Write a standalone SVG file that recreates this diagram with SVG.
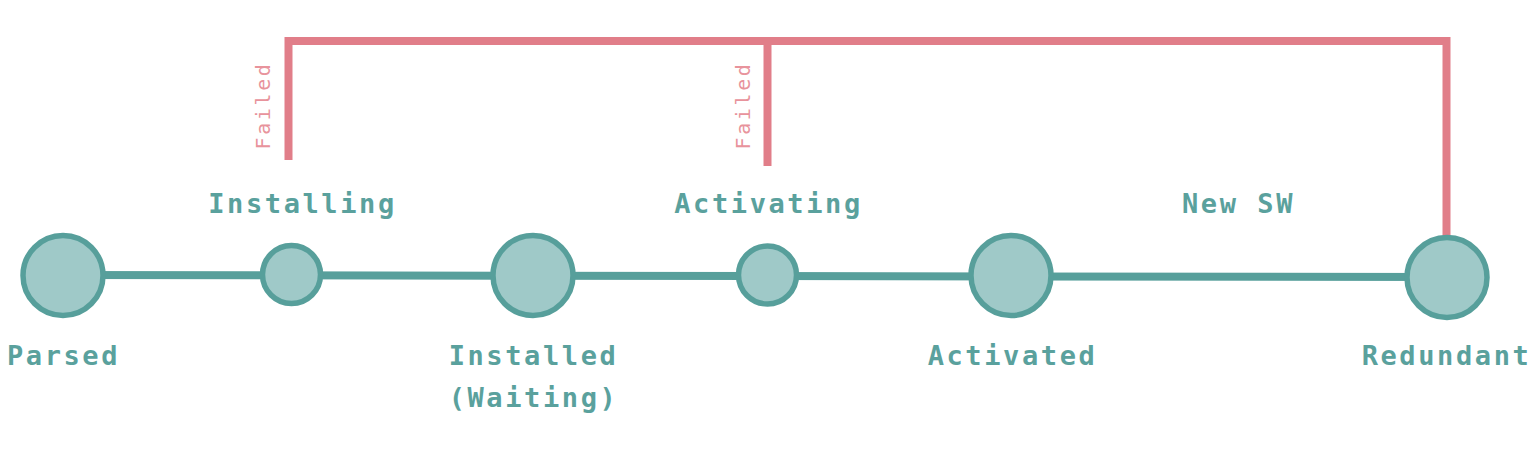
<svg xmlns="http://www.w3.org/2000/svg" width="1535" height="459" viewBox="0 0 1535 459">
<style>
.edge{stroke:#579f9b;stroke-width:8;fill:none}
.fail{stroke:#e17e89;stroke-width:8;fill:none;stroke-linecap:butt}
.big{fill:#9fc9c8;stroke:#579f9b;stroke-width:5.5}
.lbl{font-family:"DejaVu Sans Mono","Liberation Mono",monospace;font-weight:bold;font-size:27px;fill:#5aa19d;text-anchor:middle;letter-spacing:2.6px}
.flbl{font-family:"DejaVu Sans Mono","Liberation Mono",monospace;font-size:20px;fill:#e8939c;text-anchor:middle;letter-spacing:2.6px}
</style>
<rect width="1535" height="459" fill="#ffffff"/>
<g id="connectors">
<line class="edge" x1="63" y1="275" x2="1447" y2="277"/>
<polyline class="fail" points="288.5,160 288.5,41 1446.5,41 1446.5,236"/>
<line class="fail" x1="767.5" y1="41" x2="767.5" y2="166"/>
<text class="flbl" transform="translate(270,105.5) rotate(-90)">Failed</text>
<text class="flbl" transform="translate(750,105.5) rotate(-90)">Failed</text>
<text class="lbl" x="302.5" y="213">Installing</text>
<text class="lbl" x="768.5" y="213">Activating</text>
<text class="lbl" x="1238.5" y="213">New SW</text>
</g>
<g id="parsed">
<circle class="big" cx="63" cy="275.5" r="40"/>
<text class="lbl" x="63.5" y="365">Parsed</text>
</g>
<g id="installed">
<circle class="big" cx="533" cy="275.5" r="40"/>
<text class="lbl" x="533.5" y="365">Installed</text>
<text class="lbl" x="533.5" y="407">(Waiting)</text>
</g>
<g id="installing">
<circle class="big" cx="291.5" cy="274.5" r="29"/>
</g>
<g id="activating">
<circle class="big" cx="767.5" cy="275" r="29"/>
</g>
<g id="activated">
<circle class="big" cx="1011" cy="275.5" r="40"/>
<text class="lbl" x="1012.5" y="365">Activated</text>
</g>
<g id="redundant">
<circle class="big" cx="1447" cy="277.5" r="40"/>
<text class="lbl" x="1446.5" y="365">Redundant</text>
</g>
</svg>
